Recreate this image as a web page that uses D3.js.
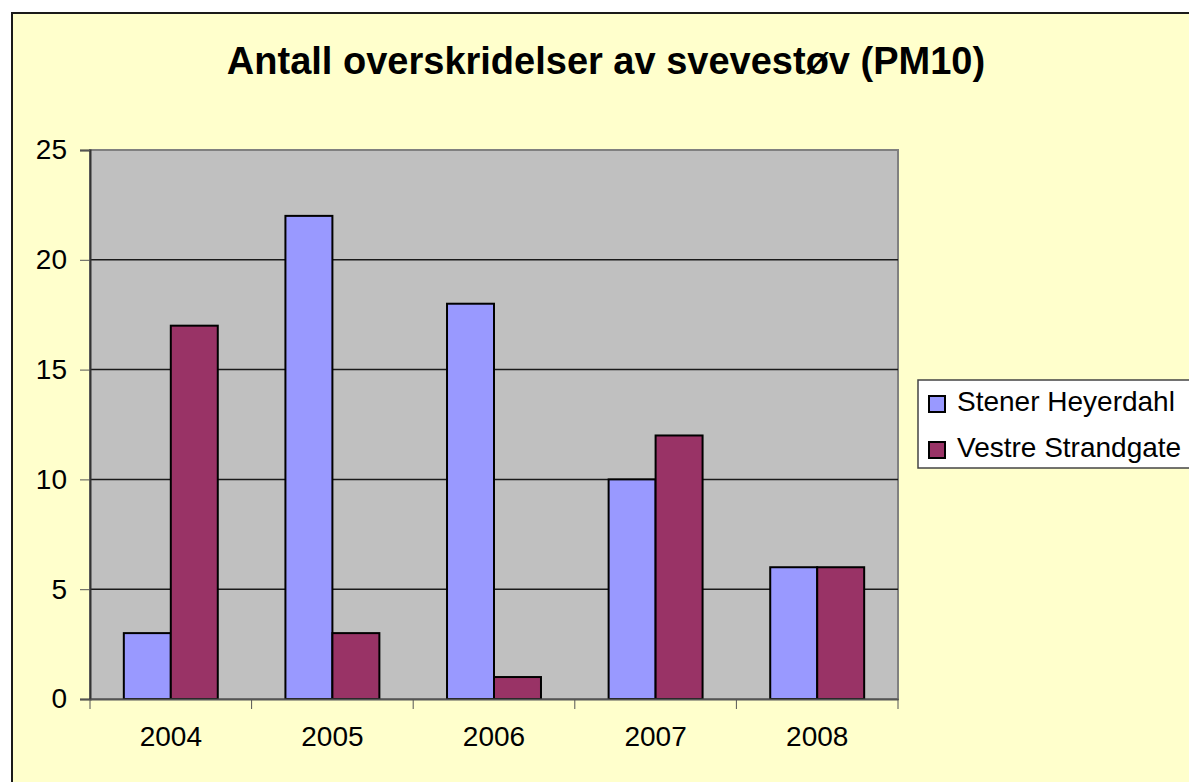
<!DOCTYPE html>
<html>
<head>
<meta charset="utf-8">
<script src="https://cdn.jsdelivr.net/npm/d3@7"></script>
<style>
  body { margin: 0; background: #fff; }
  text { font-family: Arial, "Liberation Sans", sans-serif; }
</style>
</head>
<body>
<script>
var years = ['2004', '2005', '2006', '2007', '2008'];
var seriesNames = ['Stener Heyerdahl', 'Vestre Strandgate'];
var stener = [3, 22, 18, 10, 6];
var vestre = [17, 3, 1, 12, 6];
var yTicks = [0, 5, 10, 15, 20, 25];

var colors = ['#9999FF', '#993366'];
var values = [stener, vestre];

var plot = { left: 90, top: 150, right: 898, bottom: 699 };

var svg = d3.select('body').append('svg')
  .attr('width', 1189)
  .attr('height', 782);

// chart frame
svg.append('rect')
  .attr('x', 12).attr('y', 13)
  .attr('width', 1200).attr('height', 800)
  .attr('fill', '#FFFFCC')
  .attr('stroke', '#1a1a1a')
  .attr('stroke-width', 2);

svg.append('text')
  .attr('x', 606).attr('y', 74)
  .attr('text-anchor', 'middle')
  .attr('font-size', '38px')
  .attr('font-weight', 'bold')
  .text('Antall overskridelser av svevestøv (PM10)');

var x0 = d3.scaleBand()
  .domain(years)
  .range([plot.left, plot.right]);

var x1 = d3.scaleBand()
  .domain(seriesNames)
  .range([0, x0.bandwidth()])
  .paddingOuter(0.72);

var y = d3.scaleLinear()
  .domain([0, 25])
  .range([plot.bottom, plot.top]);

// plot area
svg.append('rect')
  .attr('x', plot.left).attr('y', plot.top)
  .attr('width', plot.right - plot.left)
  .attr('height', plot.bottom - plot.top)
  .attr('fill', '#C0C0C0')
  .attr('stroke', '#808080')
  .attr('stroke-width', 2);

// gridlines
svg.append('g')
  .selectAll('line')
  .data(yTicks.filter(function(d) { return d > 0 && d < 25; }))
  .enter()
  .append('line')
  .attr('x1', plot.left).attr('x2', plot.right)
  .attr('y1', function(d) { return y(d); })
  .attr('y2', function(d) { return y(d); })
  .attr('stroke', '#1a1a1a')
  .attr('stroke-width', 1.5);

// bars
var bars = [];
years.forEach(function(yr, i) {
  seriesNames.forEach(function(s, j) {
    bars.push({ year: yr, series: s, value: values[j][i], color: colors[j] });
  });
});

svg.append('g')
  .selectAll('rect')
  .data(bars)
  .enter()
  .append('rect')
  .attr('x', function(d) { return x0(d.year) + x1(d.series); })
  .attr('y', function(d) { return y(d.value); })
  .attr('width', x1.bandwidth())
  .attr('height', function(d) { return y(0) - y(d.value); })
  .attr('fill', function(d) { return d.color; })
  .attr('stroke', '#000')
  .attr('stroke-width', 2);

// y axis
var yAxis = svg.append('g')
  .attr('transform', 'translate(' + plot.left + ',0)')
  .call(d3.axisLeft(y).tickValues(yTicks).tickSize(10).tickPadding(13));
yAxis.select('.domain').attr('stroke', '#333').attr('stroke-width', 2);
yAxis.selectAll('.tick line').attr('stroke', '#555');
yAxis.selectAll('text').attr('font-size', '28px').attr('fill', '#000')
  .attr('font-family', 'Arial, "Liberation Sans", sans-serif');

// x axis
var xAxis = svg.append('g')
  .attr('transform', 'translate(0,' + plot.bottom + ')')
  .call(d3.axisBottom(x0).tickSize(0).tickPadding(27));
xAxis.select('.domain').attr('stroke', '#555').attr('stroke-width', 2);
xAxis.selectAll('text').attr('font-size', '28px').attr('fill', '#000')
  .attr('font-family', 'Arial, "Liberation Sans", sans-serif');

// category boundary ticks
var bounds = years.map(function(d) { return x0(d); }).concat([plot.right]);
xAxis.selectAll('.bound')
  .data(bounds)
  .enter()
  .append('line')
  .attr('class', 'bound')
  .attr('x1', function(d) { return d; })
  .attr('x2', function(d) { return d; })
  .attr('y1', 0).attr('y2', 10)
  .attr('stroke', '#555');

// legend
var legend = svg.append('g');
legend.append('rect')
  .attr('x', 918).attr('y', 380)
  .attr('width', 300).attr('height', 88)
  .attr('fill', '#FFFFFF')
  .attr('stroke', '#444')
  .attr('stroke-width', 1.5);

var items = legend.selectAll('g.item')
  .data(seriesNames)
  .enter()
  .append('g')
  .attr('class', 'item')
  .attr('transform', function(d, i) { return 'translate(929,' + (396 + i * 46) + ')'; });

items.append('rect')
  .attr('width', 16).attr('height', 16)
  .attr('fill', function(d, i) { return colors[i]; })
  .attr('stroke', '#000')
  .attr('stroke-width', 2);

items.append('text')
  .attr('x', 28).attr('y', 15)
  .attr('font-size', '28px')
  .text(function(d) { return d; });
</script>
</body>
</html>
